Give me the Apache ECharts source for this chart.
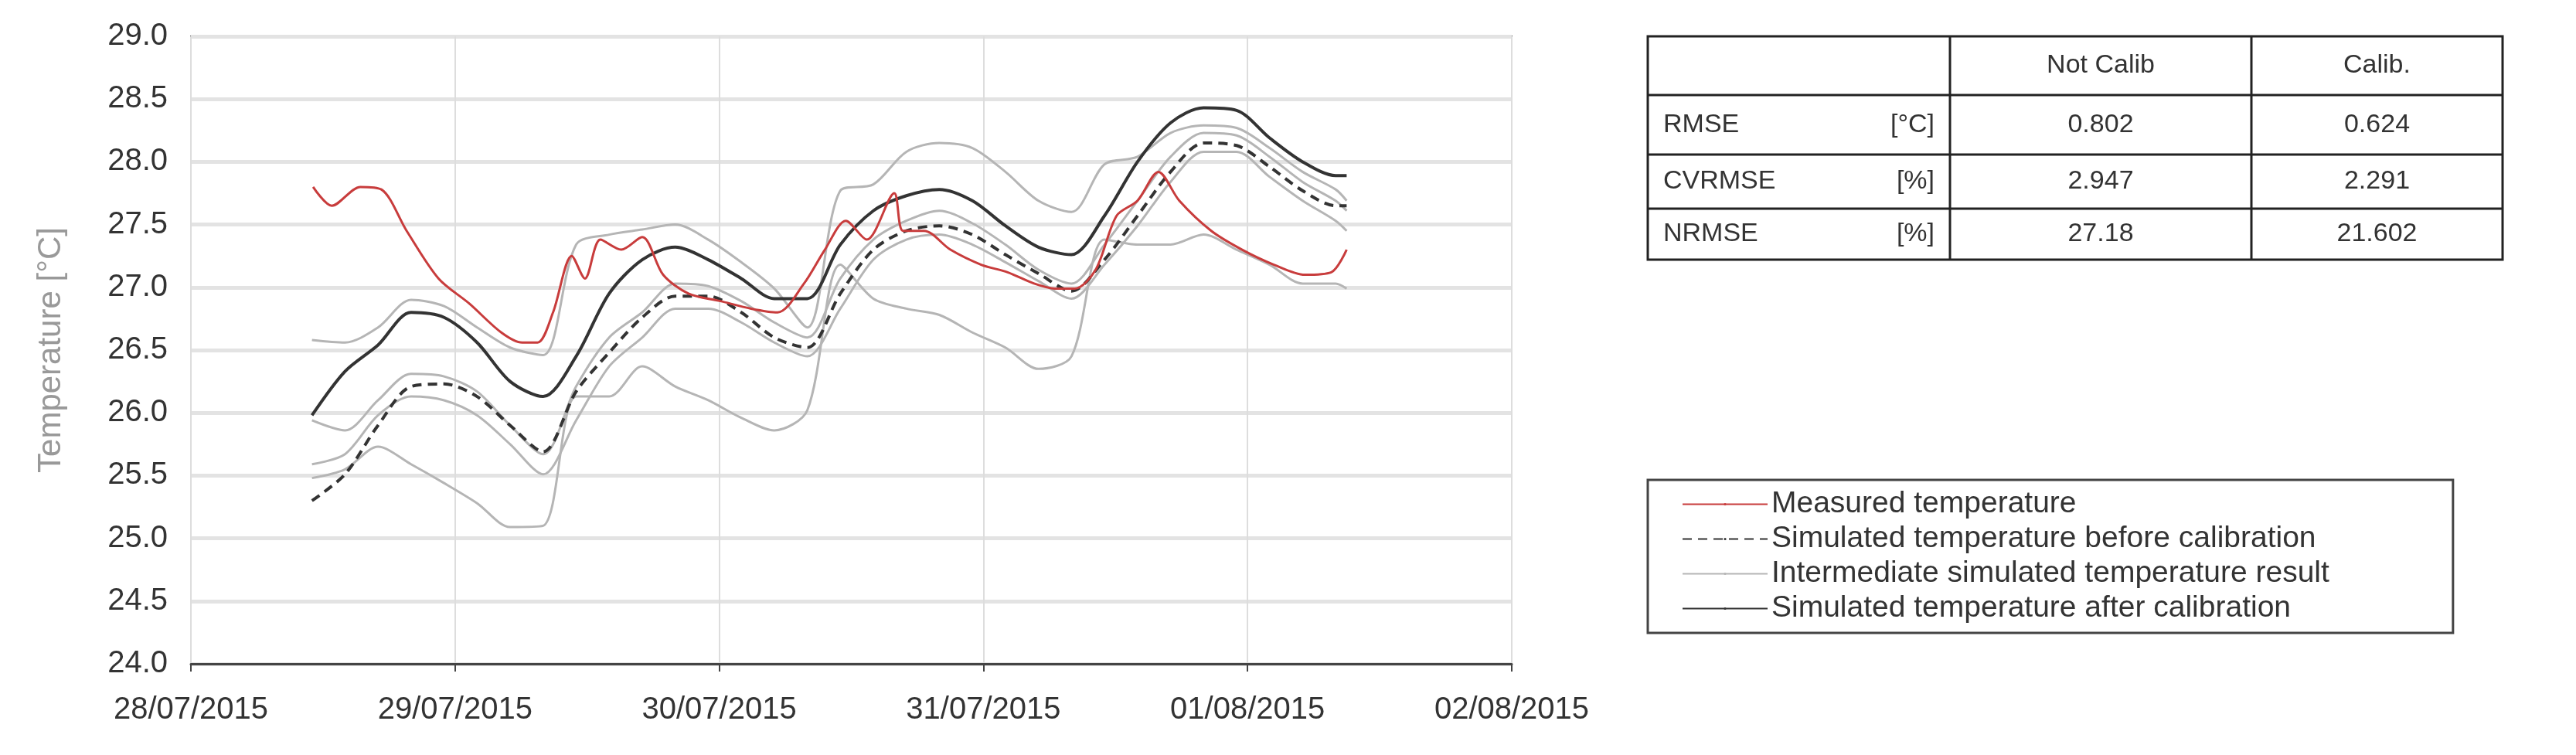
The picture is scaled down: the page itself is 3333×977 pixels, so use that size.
<!DOCTYPE html>
<html>
<head>
<meta charset="utf-8">
<script src="https://cdn.jsdelivr.net/npm/echarts@6/dist/echarts.min.js"></script>
<style>
html,body{margin:0;padding:0;background:#fff;}
#main{width:3333px;height:977px;}
</style>
</head>
<body>
<div id="main"></div>
<script>
// x values are hours since 28/07/2015 00:00
var dayLabels=['28/07/2015','29/07/2015','30/07/2015','31/07/2015','01/08/2015','02/08/2015'];

var measuredHours=[11.1,12.8,15.4,17.3,19.6,22.5,25.3,28.2,30.1,31.5,32.9,34.6,35.8,37.2,39.1,41.0,42.9,45.2,48.1,50.9,53.3,55.7,57.6,59.5,61.4,63.9,64.7,66.6,69.0,71.8,74.2,76.6,78.5,80.3,82.2,84.1,86.0,87.9,89.8,92.7,95.5,98.4,101.2,103.6,105.0];
var measuredTemp=[27.80,27.65,27.80,27.78,27.45,27.07,26.87,26.64,26.56,26.56,26.80,27.25,27.07,27.38,27.30,27.40,27.10,26.95,26.89,26.83,26.80,27.03,27.30,27.53,27.38,27.75,27.45,27.45,27.30,27.18,27.12,27.03,26.99,26.99,27.14,27.57,27.69,27.92,27.69,27.45,27.30,27.18,27.10,27.12,27.30];

var simHours=[11,14,17,20,23,26,29,32,35,38,41,44,47,50,53,56,59,62,65,68,71,74,77,80,83,86,89,92,95,98,101,104,105];
var afterCalib=[25.98,26.33,26.54,26.80,26.76,26.56,26.25,26.13,26.45,26.95,27.22,27.32,27.22,27.07,26.91,26.91,27.34,27.61,27.73,27.78,27.69,27.49,27.32,27.26,27.57,28.00,28.31,28.43,28.41,28.19,28.00,27.89,27.89];
var beforeCalib=[25.30,25.51,25.90,26.21,26.23,26.13,25.90,25.69,26.17,26.48,26.76,26.93,26.93,26.80,26.60,26.52,26.95,27.30,27.45,27.49,27.42,27.26,27.11,26.97,27.22,27.57,27.92,28.15,28.13,27.96,27.77,27.65,27.65];
var inter1=[26.58,26.56,26.68,26.90,26.85,26.68,26.52,26.46,27.34,27.42,27.46,27.50,27.38,27.20,26.99,26.68,27.77,27.82,28.08,28.15,28.11,27.92,27.69,27.60,27.98,28.04,28.23,28.29,28.27,28.11,27.92,27.78,27.69];
var inter2=[25.48,25.55,25.73,25.59,25.44,25.28,25.09,25.10,26.13,26.13,26.37,26.21,26.10,25.96,25.86,26.02,27.18,26.91,26.83,26.78,26.64,26.52,26.35,26.45,27.38,27.34,27.34,27.42,27.30,27.18,27.03,27.03,26.99];
var inter3=[25.94,25.86,26.10,26.31,26.29,26.17,25.90,25.67,26.21,26.60,26.80,27.03,27.01,26.89,26.72,26.60,27.07,27.38,27.53,27.61,27.51,27.34,27.14,27.03,27.34,27.69,28.04,28.23,28.21,28.04,27.84,27.69,27.61];
var inter4=[25.59,25.67,25.98,26.13,26.10,25.98,25.75,25.51,25.94,26.37,26.60,26.83,26.83,26.72,26.56,26.45,26.83,27.22,27.38,27.42,27.34,27.20,27.05,26.91,27.18,27.49,27.84,28.08,28.08,27.88,27.69,27.53,27.45];

var tableHead=['','Not Calib','Calib.'];
var tableRows=[['RMSE','[°C]','0.802','0.624'],['CVRMSE','[%]','2.947','2.291'],['NRMSE','[%]','27.18','21.602']];

var FONT='Liberation Sans';
var interName='Intermediate simulated temperature result';

function pairs(h,v){
    var out=[];
    for(var i=0;i<h.length;i++){out.push([h[i],v[i]]);}
    return out;
}
function lineSeries(name,h,v,color,width,type,z){
    return {name:name,type:'line',data:pairs(h,v),showSymbol:false,symbol:'none',smooth:0.3,z:z,
        lineStyle:{color:color,width:width,type:type},itemStyle:{color:color}};
}

var myChart=echarts.init(document.getElementById('main'));

// table drawn as graphic
var colX=[2132,2523,2913,3238];
var rowY=[47,123,200,270,336];
var graphics=[];
graphics.push({type:'rect',shape:{x:colX[0],y:rowY[0],width:colX[3]-colX[0],height:rowY[4]-rowY[0]},style:{fill:'#fff',stroke:'#222',lineWidth:3}});
for(var r=1;r<4;r++){
    graphics.push({type:'line',shape:{x1:colX[0],y1:rowY[r],x2:colX[3],y2:rowY[r]},style:{stroke:'#222',lineWidth:3}});
}
for(var c=1;c<3;c++){
    graphics.push({type:'line',shape:{x1:colX[c],y1:rowY[0],x2:colX[c],y2:rowY[4]},style:{stroke:'#222',lineWidth:3}});
}
function txt(x,y,s,align){
    return {type:'text',x:x,y:y,style:{text:s,fill:'#333',font:'34px "'+FONT+'"',align:align,verticalAlign:'middle'}};
}
for(var c=1;c<3;c++){
    graphics.push(txt((colX[c]+colX[c+1])/2,(rowY[0]+rowY[1])/2,tableHead[c],'center'));
}
for(var r=0;r<tableRows.length;r++){
    var yy=(rowY[r+1]+rowY[r+2])/2;
    graphics.push(txt(colX[0]+20,yy,tableRows[r][0],'left'));
    graphics.push(txt(colX[1]-20,yy,tableRows[r][1],'right'));
    graphics.push(txt((colX[1]+colX[2])/2,yy,tableRows[r][2],'center'));
    graphics.push(txt((colX[2]+colX[3])/2,yy,tableRows[r][3],'center'));
}

var option={
    backgroundColor:'#fff',
    animation:false,
    textStyle:{fontFamily:FONT},
    grid:{left:247,right:1377,top:47,bottom:118,show:true,borderColor:'#555',borderWidth:2},
    legend:{
        orient:'vertical',left:2132,top:621,width:1106,
        data:['Measured temperature','Simulated temperature before calibration',interName,'Simulated temperature after calibration'],
        itemWidth:110,itemHeight:4,itemGap:6,
        padding:[12,160,12,44],
        borderColor:'#444',borderWidth:3,backgroundColor:'#fff',
        textStyle:{fontSize:39,color:'#333',fontFamily:FONT}
    },
    xAxis:{
        type:'value',min:0,max:120,interval:24,
        axisLine:{lineStyle:{color:'#444',width:3}},
        axisTick:{show:true,length:10,lineStyle:{color:'#444',width:2}},
        axisLabel:{fontSize:40,color:'#333',margin:40,formatter:function(v){return dayLabels[v/24];}},
        splitLine:{show:true,lineStyle:{color:'#ddd',width:2}}
    },
    yAxis:{
        type:'value',min:24,max:29,interval:0.5,
        name:'Temperature [°C]',nameLocation:'middle',nameGap:160,
        nameTextStyle:{fontSize:42,color:'#999'},
        axisLine:{show:false},axisTick:{show:false},
        axisLabel:{fontSize:40,color:'#333',margin:30,formatter:function(v){return v.toFixed(1);}},
        splitLine:{lineStyle:{color:'#e3e3e3',width:5}}
    },
    graphic:graphics,
    series:[
        lineSeries(interName,simHours,inter1,'#b5b5b5',3,'solid',1),
        lineSeries(interName,simHours,inter2,'#b5b5b5',3,'solid',1),
        lineSeries(interName,simHours,inter3,'#b5b5b5',3,'solid',1),
        lineSeries(interName,simHours,inter4,'#b5b5b5',3,'solid',1),
        lineSeries('Simulated temperature before calibration',simHours,beforeCalib,'#333',4,[12,8],3),
        lineSeries('Simulated temperature after calibration',simHours,afterCalib,'#333',4,'solid',3),
        lineSeries('Measured temperature',measuredHours,measuredTemp,'#c83c3c',3,'solid',4)
    ]
};
myChart.setOption(option);
</script>
</body>
</html>
